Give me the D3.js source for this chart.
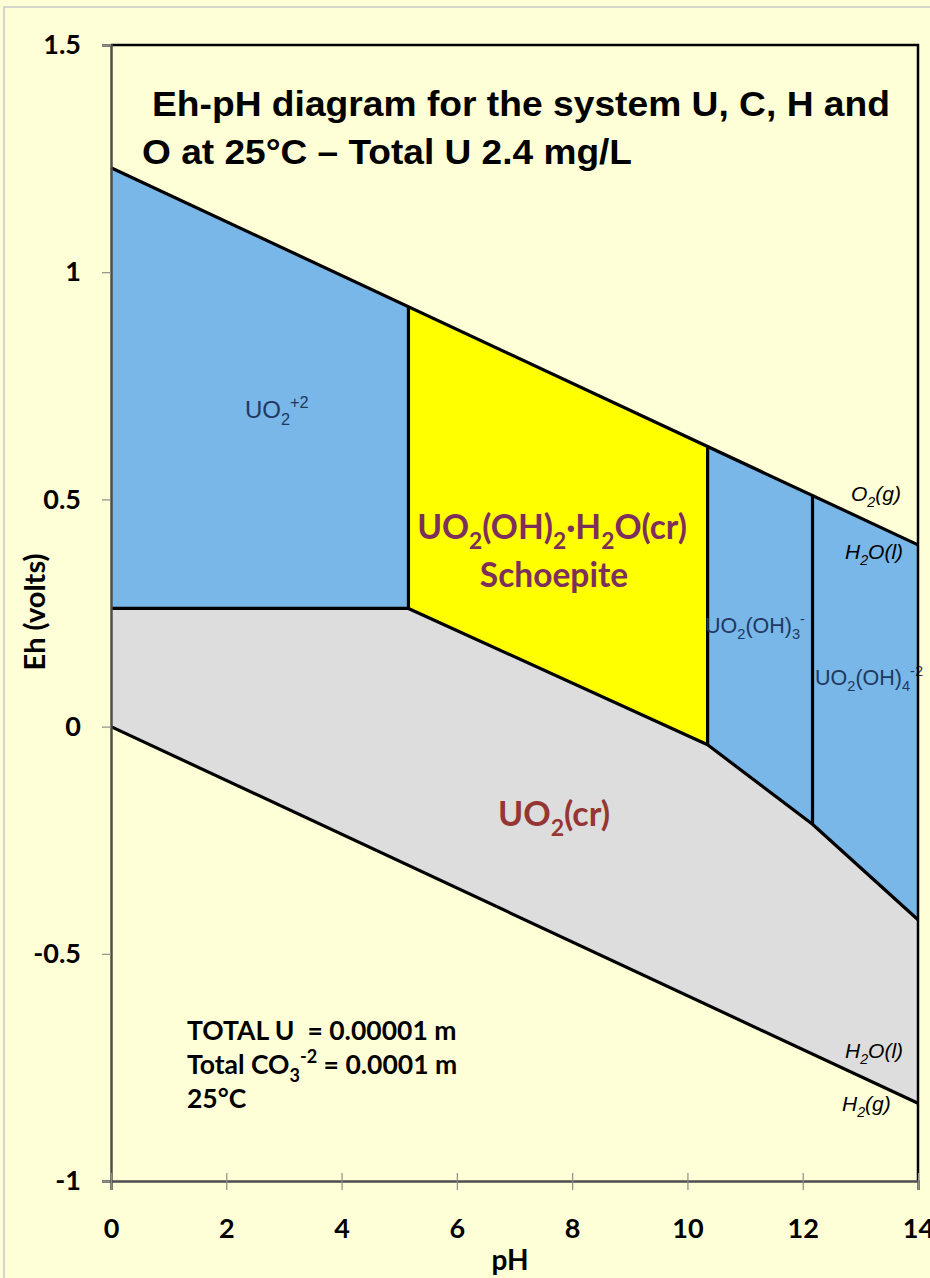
<!DOCTYPE html>
<html lang="en">
<head>
<meta charset="UTF-8">
<title>Eh-pH diagram U-C-H-O</title>
<style>
    body {
        margin: 0;
        background: #ffffd7;
        overflow: hidden;
    }
    svg text {
        font-family: "Liberation Sans", Arial, sans-serif;
        white-space: pre;
    }
    .calib {
        font-family: Lato, "Open Sans", sans-serif !important;
        font-weight: 700;
    }
</style>
</head>
<body>
<svg id="chart" width="930" height="1278"></svg>
<script src="https://d3js.org/d3.v7.min.js"></script>
<script>
// tick values
const phTicks = [0, 2, 4, 6, 8, 10, 12, 14];
const ehTicks = [1.5, 1, 0.5, 0, -0.5, -1];

// water stability lines (O2/H2O on top, H2O/H2 at bottom)
const waterPH = [0, 14];
const o2Eh = [1.23, 0.40];
const h2Eh = [0, -0.829];

// uranium field boundaries
const speciesNames = ["UO2+2", "Schoepite", "UO2(OH)3-", "UO2(OH)4-2"];
const boundaryPH = [0, 5.16, 10.35, 12.17, 14];
const upperEh = [1.23, 0.925, 0.618, 0.51, 0.40];
const lowerEh = [0.26, 0.26, -0.04, -0.215, -0.425];
const fieldColors = ["#78b7e8", "#ffff00", "#78b7e8", "#78b7e8"];

const svg = d3.select("#chart");
const W = 930, H = 1278;

const x = d3.scaleLinear().domain([0, 14]).range([111, 918]);
const y = d3.scaleLinear().domain([-1, 1.5]).range([1181, 45]);

// outer frame of the slide
svg.append("rect").attr("x", 4).attr("y", 7).attr("width", W).attr("height", H)
    .attr("fill", "#ffffd7").attr("stroke", "#c8c8c8").attr("stroke-width", 1.5);

const line = d3.line().x(d => x(d[0])).y(d => y(d[1]));

// UO2(cr) gray field: lower boundary of soluble/schoepite fields down to the H2 line
const grayPts = boundaryPH.map((p, i) => [p, lowerEh[i]])
    .concat([[waterPH[1], h2Eh[1]], [waterPH[0], h2Eh[0]]]);
svg.append("path").attr("d", line(grayPts) + "Z").attr("fill", "#dddddd");

// the four upper fields
speciesNames.forEach((name, i) => {
    const pts = [
        [boundaryPH[i], lowerEh[i]],
        [boundaryPH[i + 1], lowerEh[i + 1]],
        [boundaryPH[i + 1], upperEh[i + 1]],
        [boundaryPH[i], upperEh[i]]
    ];
    svg.append("path").attr("d", line(pts) + "Z").attr("fill", fieldColors[i]);
});

// boundary lines
const bl = svg.append("g").attr("fill", "none").attr("stroke", "#000")
    .attr("stroke-width", 3.2).attr("stroke-linejoin", "round");
bl.append("path").attr("d", line(waterPH.map((p, i) => [p, o2Eh[i]])));
bl.append("path").attr("d", line(waterPH.map((p, i) => [p, h2Eh[i]])));
bl.append("path").attr("d", line(boundaryPH.map((p, i) => [p, lowerEh[i]])));
for (let i = 1; i < boundaryPH.length - 1; i++) {
    bl.append("path").attr("d", line([[boundaryPH[i], lowerEh[i]], [boundaryPH[i], upperEh[i]]]));
}

// text with sub/superscripts: parts = [[text, kind]] where kind is "", "sub" or "sup"
function rich(xp, yp, parts, opts) {
    const t = svg.append("text").attr("x", xp).attr("y", yp)
        .attr("fill", opts.color || "#000")
        .attr("text-anchor", opts.anchor || "start")
        .style("font-size", opts.size + "px");
    if (opts.cls) t.attr("class", opts.cls);
    if (opts.bold) t.attr("font-weight", "bold");
    if (opts.italic) t.attr("font-style", "italic");
    let shift = 0;
    parts.forEach(([s, kind]) => {
        const target = kind === "sub" ? opts.size * 0.3 : kind === "sup" ? -opts.size * 0.42 : 0;
        const ts = t.append("tspan").attr("dy", target - shift).text(s);
        if (kind) ts.style("font-size", (opts.size * 0.68) + "px");
        shift = target;
    });
    return t;
}

const navy = "#1f3960";
rich(245, 418, [["UO", ""], ["2", "sub"], ["+2", "sup"]], { size: 24, color: navy });
rich(705, 633, [["UO", ""], ["2", "sub"], ["(OH)", ""], ["3", "sub"], ["-", "sup"]], { size: 21.5, color: navy });
rich(815, 685, [["UO", ""], ["2", "sub"], ["(OH)", ""], ["4", "sub"], ["-2", "sup"]], { size: 21.5, color: navy });

const plum = "#7d2f5c";
rich(552, 539, [["UO", ""], ["2", "sub"], ["(OH)", ""], ["2", "sub"], ["\u00b7H", ""], ["2", "sub"], ["O(cr)", ""]],
    { size: 33.5, color: plum, cls: "calib", anchor: "middle" });
rich(554, 587, [["Schoepite", ""]], { size: 33.5, color: plum, cls: "calib", anchor: "middle" });
rich(554, 826, [["UO", ""], ["2", "sub"], ["(cr)", ""]], { size: 34, color: "#953634", cls: "calib", anchor: "middle" });

// water labels
rich(851, 501, [["O", ""], ["2", "sub"], ["(g)", ""]], { size: 21, italic: true });
rich(845, 559, [["H", ""], ["2", "sub"], ["O(l)", ""]], { size: 21, italic: true });
rich(845, 1058, [["H", ""], ["2", "sub"], ["O(l)", ""]], { size: 21, italic: true });
rich(842, 1111, [["H", ""], ["2", "sub"], ["(g)", ""]], { size: 21, italic: true });

// plot frame: top and right in black
svg.append("path")
    .attr("d", `M${x(0)},${y(1.5)}H${x(14)}V${y(-1)}`)
    .attr("fill", "none").attr("stroke", "#000").attr("stroke-width", 2.5);

// axes
const yAxis = svg.append("g").attr("transform", `translate(${x(0)},0)`)
    .call(d3.axisLeft(y).tickValues(ehTicks).tickSize(9).tickPadding(21).tickFormat(d => String(d)));
const xAxis = svg.append("g").attr("transform", `translate(0,${y(-1)})`)
    .call(d3.axisBottom(x).tickValues(phTicks).tickSize(9).tickPadding(29).tickFormat(d => String(d)));

[yAxis, xAxis].forEach(a => {
    a.select(".domain").attr("stroke", "#4d4d4d").attr("stroke-width", 2.5);
    a.selectAll(".tick line").attr("stroke", "#8c8c8c").attr("stroke-width", 1.2);
    a.selectAll(".tick text").attr("class", "calib").attr("fill", "#000")
        .style("font-size", "27px");
});
xAxis.selectAll(".tick line").attr("y1", -8).attr("y2", 9);

// axis titles
svg.append("text").attr("class", "calib").attr("x", 510).attr("y", 1270)
    .attr("text-anchor", "middle").style("font-size", "28px").text("pH");
svg.append("text").attr("class", "calib")
    .attr("transform", "translate(45,612) rotate(-90)")
    .attr("text-anchor", "middle").style("font-size", "29px").text("Eh (volts)");

// title
const title = svg.append("text").attr("font-weight", "bold").style("font-size", "35px").attr("fill", "#000");
title.append("tspan").attr("x", 152).attr("y", 116).attr("textLength", 738)
    .attr("lengthAdjust", "spacingAndGlyphs").text("Eh-pH diagram for the system U, C, H and");
title.append("tspan").attr("x", 142).attr("y", 164).attr("textLength", 490)
    .attr("lengthAdjust", "spacingAndGlyphs").text("O at 25°C \u2013 Total U 2.4 mg/L");

// conditions note
rich(187, 1040, [["TOTAL U  = 0.00001 m", ""]], { size: 26.5, cls: "calib" });
rich(187, 1074, [["Total CO", ""], ["3", "sub"], ["-2", "sup"], [" = 0.0001 m", ""]], { size: 26.5, cls: "calib" });
rich(187, 1108, [["25°C", ""]], { size: 26.5, cls: "calib" });
</script>
</body>
</html>
